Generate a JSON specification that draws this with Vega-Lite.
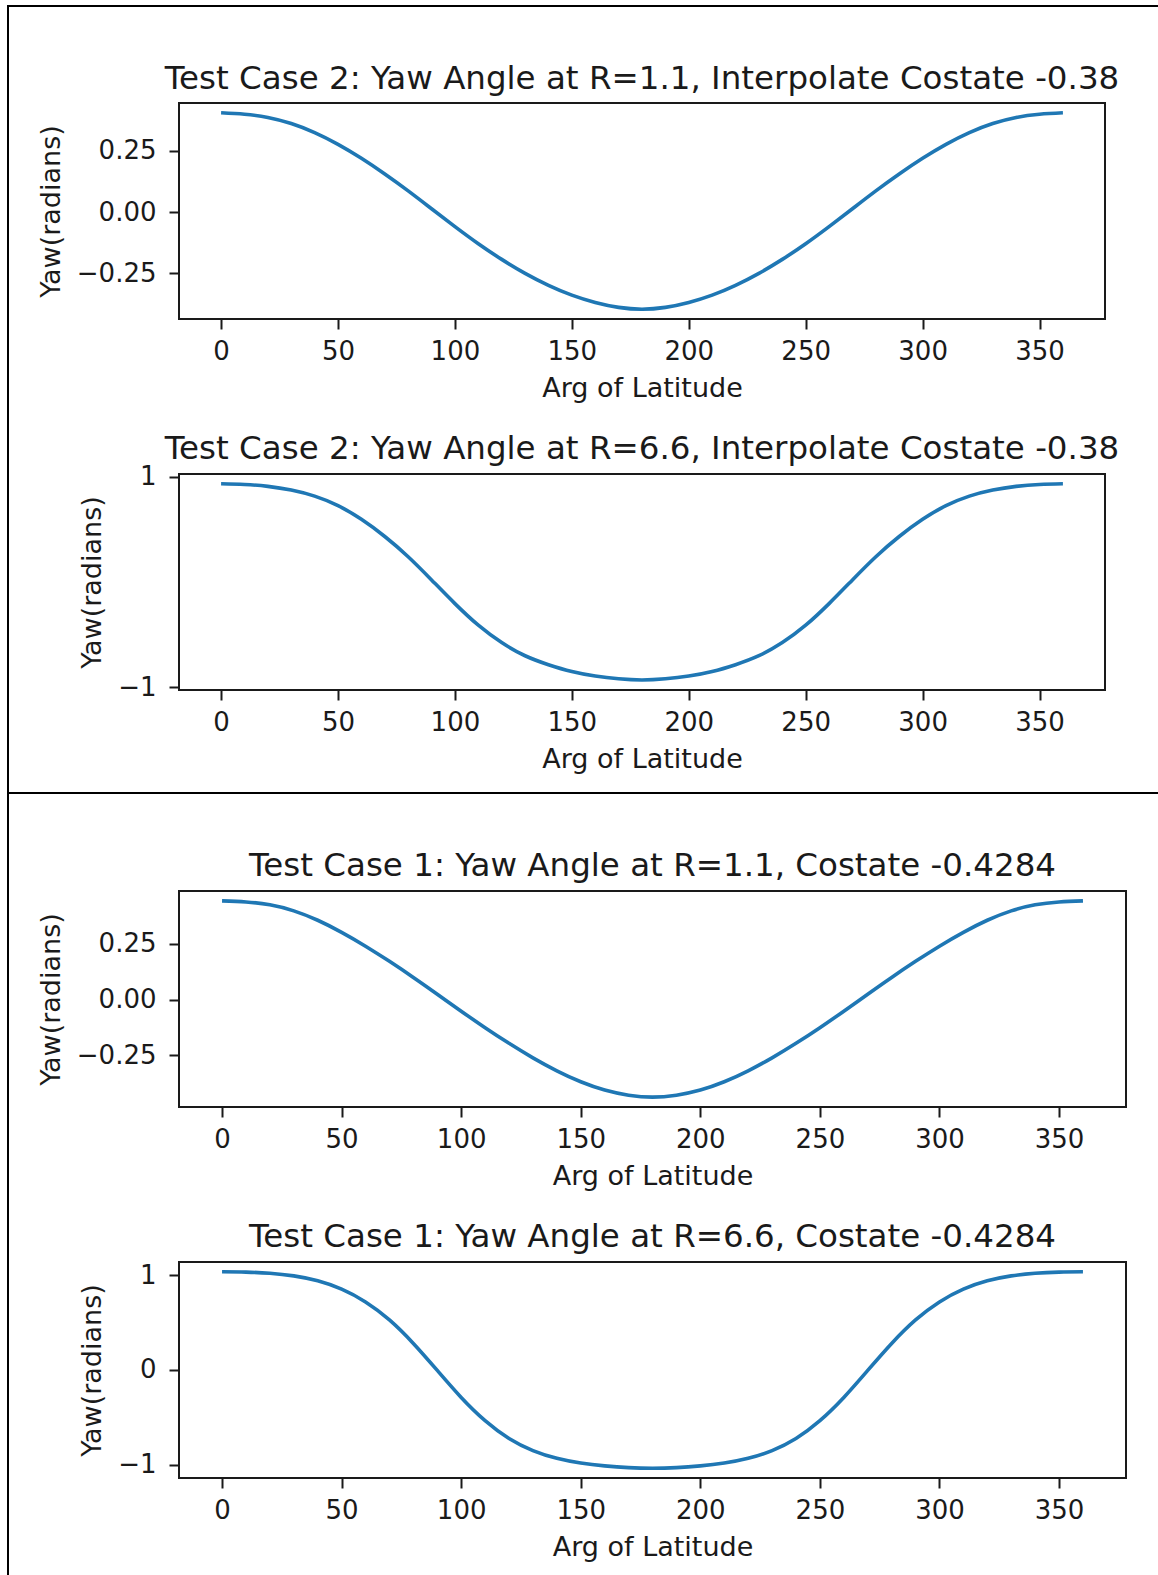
{
  "$schema": "https://vega.github.io/schema/vega-lite/v6.json",
  "padding": {"left": 7, "top": 5, "right": 0, "bottom": 0},
  "background": "white",
  "datasets": {
    "case2_r11": [
      {"u": 0, "yaw": 0.406}, {"u": 10, "yaw": 0.400}, {"u": 20, "yaw": 0.387}, {"u": 30, "yaw": 0.362},
      {"u": 40, "yaw": 0.325}, {"u": 50, "yaw": 0.277}, {"u": 60, "yaw": 0.220}, {"u": 70, "yaw": 0.156},
      {"u": 80, "yaw": 0.087}, {"u": 90, "yaw": 0.014}, {"u": 100, "yaw": -0.059}, {"u": 110, "yaw": -0.129},
      {"u": 120, "yaw": -0.193}, {"u": 130, "yaw": -0.250}, {"u": 140, "yaw": -0.299}, {"u": 150, "yaw": -0.339},
      {"u": 160, "yaw": -0.369}, {"u": 170, "yaw": -0.389}, {"u": 180, "yaw": -0.3965}, {"u": 190, "yaw": -0.389},
      {"u": 200, "yaw": -0.369}, {"u": 210, "yaw": -0.339}, {"u": 220, "yaw": -0.299}, {"u": 230, "yaw": -0.250},
      {"u": 240, "yaw": -0.193}, {"u": 250, "yaw": -0.129}, {"u": 260, "yaw": -0.059}, {"u": 270, "yaw": 0.014},
      {"u": 280, "yaw": 0.087}, {"u": 290, "yaw": 0.156}, {"u": 300, "yaw": 0.220}, {"u": 310, "yaw": 0.277},
      {"u": 320, "yaw": 0.325}, {"u": 330, "yaw": 0.362}, {"u": 340, "yaw": 0.387}, {"u": 350, "yaw": 0.400},
      {"u": 360, "yaw": 0.406}
    ],
    "case2_r66": [
      {"u": 0, "yaw": 0.932}, {"u": 10, "yaw": 0.926}, {"u": 20, "yaw": 0.908}, {"u": 30, "yaw": 0.873},
      {"u": 40, "yaw": 0.815}, {"u": 50, "yaw": 0.725}, {"u": 60, "yaw": 0.595}, {"u": 70, "yaw": 0.432},
      {"u": 80, "yaw": 0.240}, {"u": 90, "yaw": 0.020}, {"u": 100, "yaw": -0.205}, {"u": 110, "yaw": -0.410},
      {"u": 120, "yaw": -0.575}, {"u": 130, "yaw": -0.700}, {"u": 140, "yaw": -0.785}, {"u": 150, "yaw": -0.850},
      {"u": 160, "yaw": -0.893}, {"u": 170, "yaw": -0.919}, {"u": 180, "yaw": -0.930}, {"u": 190, "yaw": -0.919},
      {"u": 200, "yaw": -0.893}, {"u": 210, "yaw": -0.850}, {"u": 220, "yaw": -0.785}, {"u": 230, "yaw": -0.700},
      {"u": 240, "yaw": -0.575}, {"u": 250, "yaw": -0.410}, {"u": 260, "yaw": -0.205}, {"u": 270, "yaw": 0.020},
      {"u": 280, "yaw": 0.240}, {"u": 290, "yaw": 0.432}, {"u": 300, "yaw": 0.595}, {"u": 310, "yaw": 0.725},
      {"u": 320, "yaw": 0.815}, {"u": 330, "yaw": 0.873}, {"u": 340, "yaw": 0.908}, {"u": 350, "yaw": 0.926},
      {"u": 360, "yaw": 0.932}
    ],
    "case1_r11": [
      {"u": 0, "yaw": 0.442}, {"u": 10, "yaw": 0.437}, {"u": 20, "yaw": 0.424}, {"u": 30, "yaw": 0.397},
      {"u": 40, "yaw": 0.355}, {"u": 50, "yaw": 0.301}, {"u": 60, "yaw": 0.239}, {"u": 70, "yaw": 0.171},
      {"u": 80, "yaw": 0.099}, {"u": 90, "yaw": 0.024}, {"u": 100, "yaw": -0.052}, {"u": 110, "yaw": -0.126},
      {"u": 120, "yaw": -0.196}, {"u": 130, "yaw": -0.261}, {"u": 140, "yaw": -0.319}, {"u": 150, "yaw": -0.368},
      {"u": 160, "yaw": -0.405}, {"u": 170, "yaw": -0.428}, {"u": 180, "yaw": -0.437}, {"u": 190, "yaw": -0.428},
      {"u": 200, "yaw": -0.405}, {"u": 210, "yaw": -0.368}, {"u": 220, "yaw": -0.319}, {"u": 230, "yaw": -0.261},
      {"u": 240, "yaw": -0.196}, {"u": 250, "yaw": -0.126}, {"u": 260, "yaw": -0.052}, {"u": 270, "yaw": 0.024},
      {"u": 280, "yaw": 0.099}, {"u": 290, "yaw": 0.171}, {"u": 300, "yaw": 0.239}, {"u": 310, "yaw": 0.301},
      {"u": 320, "yaw": 0.355}, {"u": 330, "yaw": 0.397}, {"u": 340, "yaw": 0.424}, {"u": 350, "yaw": 0.437},
      {"u": 360, "yaw": 0.442}
    ],
    "case1_r66": [
      {"u": 0, "yaw": 1.035}, {"u": 10, "yaw": 1.032}, {"u": 20, "yaw": 1.020}, {"u": 30, "yaw": 0.992},
      {"u": 40, "yaw": 0.940}, {"u": 50, "yaw": 0.852}, {"u": 60, "yaw": 0.717}, {"u": 70, "yaw": 0.527},
      {"u": 80, "yaw": 0.279}, {"u": 90, "yaw": -0.006}, {"u": 100, "yaw": -0.291}, {"u": 110, "yaw": -0.536},
      {"u": 120, "yaw": -0.724}, {"u": 130, "yaw": -0.852}, {"u": 140, "yaw": -0.934}, {"u": 150, "yaw": -0.984},
      {"u": 160, "yaw": -1.014}, {"u": 170, "yaw": -1.032}, {"u": 180, "yaw": -1.038}, {"u": 190, "yaw": -1.032},
      {"u": 200, "yaw": -1.014}, {"u": 210, "yaw": -0.984}, {"u": 220, "yaw": -0.934}, {"u": 230, "yaw": -0.852},
      {"u": 240, "yaw": -0.724}, {"u": 250, "yaw": -0.536}, {"u": 260, "yaw": -0.291}, {"u": 270, "yaw": -0.006},
      {"u": 280, "yaw": 0.279}, {"u": 290, "yaw": 0.527}, {"u": 300, "yaw": 0.717}, {"u": 310, "yaw": 0.852},
      {"u": 320, "yaw": 0.940}, {"u": 330, "yaw": 0.992}, {"u": 340, "yaw": 1.020}, {"u": 350, "yaw": 1.032},
      {"u": 360, "yaw": 1.035}
    ],
    "edge": [{"part": "rule"}],
    "none": []
  },
  "config": {
    "view": {"stroke": "#1a1a1a", "strokeWidth": 2},
    "font": "DejaVu Sans",
    "axis": {
      "domain": false,
      "grid": false,
      "labelFont": "DejaVu Sans",
      "labelFontSize": 26,
      "labelColor": "#1a1a1a",
      "labelFlush": false,
      "labelOverlap": false,
      "titleFont": "DejaVu Sans",
      "titleFontSize": 27,
      "titleFontWeight": "normal",
      "titleColor": "#1a1a1a",
      "tickColor": "#1a1a1a",
      "tickWidth": 2,
      "tickSize": 10
    },
    "axisX": {"labelPadding": 9, "titlePadding": 11},
    "axisY": {"labelPadding": 13, "titlePadding": 11},
    "title": {
      "font": "DejaVu Sans",
      "fontSize": 32.5,
      "fontWeight": "normal",
      "color": "#1a1a1a",
      "anchor": "middle",
      "frame": "group",
      "baseline": "bottom"
    }
  },
  "spacing": 0,
  "vconcat": [
    {
      "width": 1151, "height": 2,
      "view": {"stroke": null},
      "data": {"name": "edge"},
      "mark": {"type": "rect", "color": "black"},
      "encoding": {}
    },
    {
      "spacing": 27,
      "hconcat": [
        {
          "width": 2, "height": 785,
          "view": {"stroke": null},
          "data": {"name": "edge"},
          "mark": {"type": "rect", "color": "black"},
          "encoding": {}
        },
        {
          "bounds": "flush",
          "spacing": 0,
          "vconcat": [
            {
              "width": 1, "height": 96,
              "view": {"stroke": null},
              "data": {"name": "none"},
              "mark": "rect",
              "encoding": {}
            },
            {
              "bounds": "flush",
              "spacing": 155,
              "vconcat": [
                {
                  "width": 926, "height": 216,
                  "title": {"text": "Test Case 2: Yaw Angle at R=1.1, Interpolate Costate -0.38", "offset": 8},
                  "data": {"name": "case2_r11"},
                  "mark": {"type": "line", "color": "#1f77b4", "strokeWidth": 3.6, "interpolate": "natural"},
                  "encoding": {
                    "x": {"field": "u", "type": "quantitative",
                          "scale": {"domain": [-18, 378], "nice": false, "zero": false},
                          "axis": {"title": "Arg of Latitude", "values": [0, 50, 100, 150, 200, 250, 300, 350], "format": "d"}},
                    "y": {"field": "yaw", "type": "quantitative",
                          "scale": {"domain": [-0.4366, 0.4461], "nice": false, "zero": false},
                          "axis": {"title": "Yaw(radians)", "values": [-0.25, 0, 0.25], "format": ".2f"}}
                  }
                },
                {
                  "width": 926, "height": 216,
                  "title": {"text": "Test Case 2: Yaw Angle at R=6.6, Interpolate Costate -0.38", "offset": -2},
                  "data": {"name": "case2_r66"},
                  "mark": {"type": "line", "color": "#1f77b4", "strokeWidth": 3.6, "interpolate": "natural"},
                  "encoding": {
                    "x": {"field": "u", "type": "quantitative",
                          "scale": {"domain": [-18, 378], "nice": false, "zero": false},
                          "axis": {"title": "Arg of Latitude", "values": [0, 50, 100, 150, 200, 250, 300, 350], "format": "d"}},
                    "y": {"field": "yaw", "type": "quantitative",
                          "scale": {"domain": [-1.0252, 1.0252], "nice": false, "zero": false},
                          "axis": {"title": "Yaw(radians)", "values": [-1, 0, 1], "format": "d"}}
                  }
                }
              ]
            }
          ]
        }
      ]
    },
    {
      "width": 1151, "height": 2,
      "view": {"stroke": null},
      "data": {"name": "edge"},
      "mark": {"type": "rect", "color": "black"},
      "encoding": {}
    },
    {
      "spacing": 27,
      "hconcat": [
        {
          "width": 2, "height": 781,
          "view": {"stroke": null},
          "data": {"name": "edge"},
          "mark": {"type": "rect", "color": "black"},
          "encoding": {}
        },
        {
          "bounds": "flush",
          "spacing": 0,
          "vconcat": [
            {
              "width": 1, "height": 97,
              "view": {"stroke": null},
              "data": {"name": "none"},
              "mark": "rect",
              "encoding": {}
            },
            {
              "bounds": "flush",
              "spacing": 155,
              "vconcat": [
                {
                  "width": 947, "height": 216,
                  "title": {"text": "Test Case 1: Yaw Angle at R=1.1, Costate -0.4284", "offset": 9},
                  "data": {"name": "case1_r11"},
                  "mark": {"type": "line", "color": "#1f77b4", "strokeWidth": 3.6, "interpolate": "natural"},
                  "encoding": {
                    "x": {"field": "u", "type": "quantitative",
                          "scale": {"domain": [-18, 378], "nice": false, "zero": false},
                          "axis": {"title": "Arg of Latitude", "values": [0, 50, 100, 150, 200, 250, 300, 350], "format": "d"}},
                    "y": {"field": "yaw", "type": "quantitative",
                          "scale": {"domain": [-0.481, 0.486], "nice": false, "zero": false},
                          "axis": {"title": "Yaw(radians)", "values": [-0.25, 0, 0.25], "format": ".2f"}}
                  }
                },
                {
                  "width": 947, "height": 216,
                  "title": {"text": "Test Case 1: Yaw Angle at R=6.6, Costate -0.4284", "offset": 9},
                  "data": {"name": "case1_r66"},
                  "mark": {"type": "line", "color": "#1f77b4", "strokeWidth": 3.6, "interpolate": "natural"},
                  "encoding": {
                    "x": {"field": "u", "type": "quantitative",
                          "scale": {"domain": [-18, 378], "nice": false, "zero": false},
                          "axis": {"title": "Arg of Latitude", "values": [0, 50, 100, 150, 200, 250, 300, 350], "format": "d"}},
                    "y": {"field": "yaw", "type": "quantitative",
                          "scale": {"domain": [-1.1417, 1.1387], "nice": false, "zero": false},
                          "axis": {"title": "Yaw(radians)", "values": [-1, 0, 1], "format": "d"}}
                  }
                }
              ]
            }
          ]
        }
      ]
    }
  ]
}
